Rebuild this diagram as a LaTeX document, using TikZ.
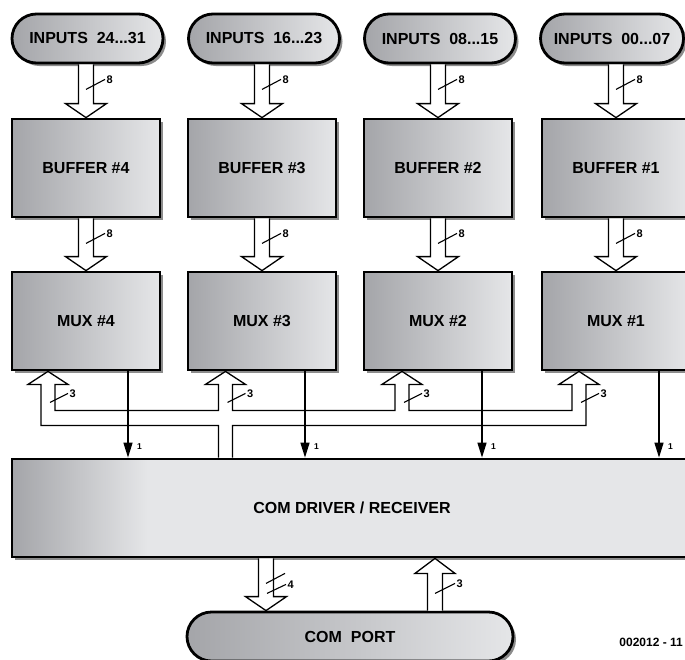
\documentclass[tikz,border=0pt]{standalone}
\usepackage{fontspec}
\setmainfont{Liberation Sans}
\usetikzlibrary{shadows,calc,arrows.meta}
\definecolor{gA}{RGB}{164,165,169}
\definecolor{gB}{RGB}{229,230,232}
\definecolor{shad}{RGB}{140,140,140}
\pgfdeclarehorizontalshading{drvshade}{100bp}{color(0bp)=(gA); color(25bp)=(gA); color(35bp)=(gB); color(100bp)=(gB)}

\newcommand{\hdown}[4]{%
  \filldraw[bus] let \p1=(#1), \p2=(#2), \p3=(#3) in
   (\x3-7.5pt,\y1) -- (\x3-7.5pt,\y2+14pt) -- (\x3-20.5pt,\y2+14pt) -- (\x3,\y2)
   -- (\x3+20.5pt,\y2+14pt) -- (\x3+7.5pt,\y2+14pt) -- (\x3+7.5pt,\y1);
  \draw[tick] let \p1=(#1), \p3=(#3) in (\x3,\y1-25pt) -- (\x3+19pt,\y1-15pt) node[lab] {#4};
}
\newcommand{\hup}[3]{%
  \filldraw[bus] let \p1=(#1), \p2=(#2), \p3=(#3) in
   (\x3-7.5pt,\y1) -- (\x3-7.5pt,\y2-15pt) -- (\x3-20pt,\y2-15pt) -- (\x3,\y2)
   -- (\x3+20pt,\y2-15pt) -- (\x3+7.5pt,\y2-15pt) -- (\x3+7.5pt,\y1);
}

\begin{document}
\begin{tikzpicture}[x=1pt,y=-1pt,
  boxbase/.style={draw=black, line width=2.8pt, inner sep=0pt,
     minimum width=148pt, minimum height=98pt,
     font=\bfseries\fontsize{16}{18}\selectfont,
     drop shadow={shadow xshift=3pt,shadow yshift=-3pt,fill=shad,opacity=1}},
  box/.style={boxbase, left color=gA, right color=gB},
  pill/.style={box, rounded corners=24.5pt, minimum width=151pt, minimum height=49pt},
  bus/.style={draw=black, fill=white, line width=1.3pt, line join=miter},
  wire/.style={line width=1.3pt, -{Triangle[length=15pt,width=9pt]}},
  tick/.style={line width=1.1pt},
  lab/.style={font=\bfseries\fontsize{11}{12}\selectfont, anchor=west, inner sep=1pt},
  labone/.style={font=\bfseries\fontsize{8.5}{9}\selectfont, anchor=west, inner sep=1pt}]

\clip (0,0) rectangle (685,659);

% input pills
\node[pill] (p4) at (87.5,38.5) {INPUTS~~24...31};
\node[pill] (p3) at (264,38.5) {INPUTS~~16...23};
\node[pill] (p2) at (440,38.5) {INPUTS~~08...15};
\node[pill, minimum width=143pt] (p1) at (612,38.5) {INPUTS~~00...07};

% buffers
\node[box] (b4) at (86,168) {BUFFER \#4};
\node[box] (b3) at (262,168) {BUFFER \#3};
\node[box] (b2) at (438,168) {BUFFER \#2};
\node[box] (b1) at (616,168) {BUFFER \#1};

% muxes
\node[box] (m4) at (86,321) {MUX \#4};
\node[box] (m3) at (262,321) {MUX \#3};
\node[box] (m2) at (438,321) {MUX \#2};
\node[box] (m1) at (616,321) {MUX \#1};

% driver
\node[boxbase, shade, shading=drvshade, minimum width=680pt] (drv) at (352,508) {COM DRIVER / RECEIVER};

% com port
\node[pill, minimum width=326pt] (com) at (350,636.5) {COM~~PORT};

\node[anchor=east, inner sep=0pt, font=\bfseries\fontsize{12}{14}\selectfont] (fig) at (683,642) {002012 - 11};

% column coordinates
\coordinate (a4) at (86,0);
\coordinate (a3) at (262,0);
\coordinate (a2) at (438,0);
\coordinate (a1) at (616,0);

% input buses
\hdown{p4.south}{b4.north}{a4}{8}
\hdown{p3.south}{b3.north}{a3}{8}
\hdown{p2.south}{b2.north}{a2}{8}
\hdown{p1.south}{b1.north}{a1}{8}
% buffer -> mux
\hdown{b4.south}{m4.north}{a4}{8}
\hdown{b3.south}{m3.north}{a3}{8}
\hdown{b2.south}{m2.north}{a2}{8}
\hdown{b1.south}{m1.north}{a1}{8}

% control bus
\filldraw[bus] let \p1=(m4.south), \p2=(drv.north) in
 (218.5pt,\y2) -- (218.5pt,\y1-54pt) -- (41pt,\y1-54pt) -- (41pt,\y1-13pt) -- (28pt,\y1-13pt)
 -- (48pt,\y1) -- (68pt,\y1-13pt) -- (55pt,\y1-13pt) -- (55pt,\y1-39pt) -- (218.5pt,\y1-39pt)
 -- (218.5pt,\y1-13pt) -- (205.5pt,\y1-13pt) -- (225.5pt,\y1) -- (245.5pt,\y1-13pt)
 -- (232.5pt,\y1-13pt) -- (232.5pt,\y1-39pt) -- (395pt,\y1-39pt) -- (395pt,\y1-13pt)
 -- (382pt,\y1-13pt) -- (402pt,\y1) -- (422pt,\y1-13pt) -- (409pt,\y1-13pt) -- (409pt,\y1-39pt)
 -- (572pt,\y1-39pt) -- (572pt,\y1-13pt) -- (559pt,\y1-13pt) -- (579pt,\y1) -- (599pt,\y1-13pt)
 -- (586pt,\y1-13pt) -- (586pt,\y1-54pt) -- (232.5pt,\y1-54pt) -- (232.5pt,\y2);

\coordinate (k4) at (48,0);
\coordinate (k3) at (225.5,0);
\coordinate (k2) at (402,0);
\coordinate (k1) at (579,0);
\foreach \m/\k in {m4/k4,m3/k3,m2/k2,m1/k1}{
  \draw[tick] ($(\m.south -| \k)+(2,31)$) -- ++(18,-9) node[lab] {3};
}

% single lines mux -> driver
\coordinate (w4) at (128,0);
\coordinate (w3) at (305,0);
\coordinate (w2) at (482,0);
\coordinate (w1) at (659,0);
\foreach \m/\w in {m4/w4,m3/w3,m2/w2,m1/w1}{
  \draw[wire] (\m.south -| \w) -- (drv.north -| \w);
  \node[labone] at ($(drv.north -| \w)+(8,-11)$) {1};
}

% com port buses
\coordinate (d4) at (266,0);
\coordinate (u3) at (435,0);
\hdown{drv.south}{com.north}{d4}{}
\draw[tick] ($(drv.south -| d4)+(1,35)$) -- ++(19,-9) node[lab] {4};
\hup{com.north}{drv.south}{u3}
\draw[tick] ($(drv.south -| u3)+(0,35)$) -- ++(20,-10) node[lab] {3};

\end{tikzpicture}
\end{document}
